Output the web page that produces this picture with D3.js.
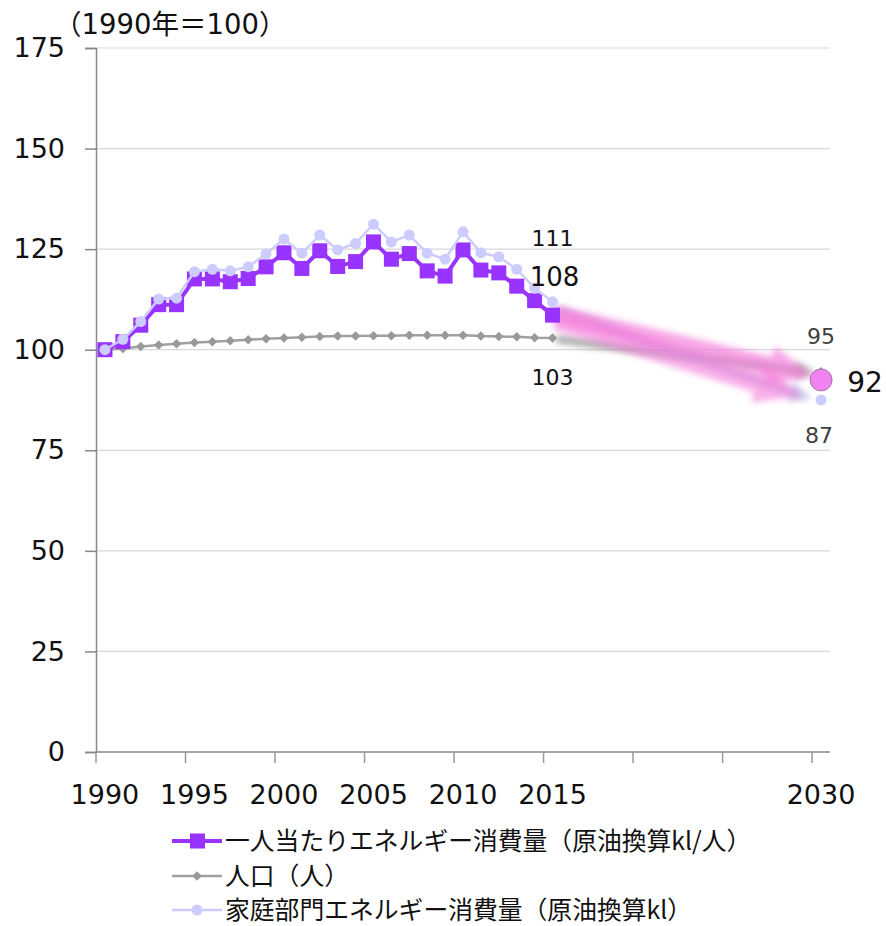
<!DOCTYPE html>
<html>
<head>
<meta charset="utf-8">
<script src="https://cdn.jsdelivr.net/npm/d3@7"></script>
<style>
  body { margin: 0; background: #fff; }
  svg text { font-family: "DejaVu Sans", "Noto Sans CJK JP", sans-serif; }
</style>
</head>
<body>
<div id="chart"></div>
<script>
'use strict';

// categories on the x axis (1990 .. 2030, one per year)
var years = d3.range(1990, 2031);
var tickLabels = ['1990', '1995', '2000', '2005', '2010', '2015', '2030'];
var yTicks = [0, 25, 50, 75, 100, 125, 150, 175];

// 1990 = 100
var dataYears = d3.range(1990, 2016);
var perCapita = [100, 102.0, 106.1, 111.2, 111.2, 117.6, 117.6, 116.9, 117.7, 120.6,
    124.1, 120.2, 124.6, 120.7, 121.9, 126.8, 122.5, 123.9, 119.6, 118.3,
    124.8, 119.8, 119.1, 115.8, 112.2, 108.6];
var population = [100, 100.3, 100.8, 101.2, 101.5, 101.8, 102.0, 102.2, 102.5, 102.7,
    102.9, 103.1, 103.3, 103.4, 103.4, 103.5, 103.5, 103.6, 103.6, 103.6,
    103.6, 103.4, 103.3, 103.2, 103.0, 102.9];
var household = [100, 102.6, 107.0, 112.6, 112.8, 119.4, 120.0, 119.6, 120.6, 123.8,
    127.5, 124.0, 128.5, 124.8, 126.4, 131.2, 126.8, 128.5, 124.0, 122.5,
    129.3, 124.1, 123.1, 120.0, 115.3, 111.9];

// 2030 outlook
var target2030 = { perCapita: 92.5, population: 94.5, household: 87.5 };

// value labels
var endLabels = [
    { text: '111', year: 2015, value: 111, size: 22, dx: 0, dy: -59, color: '#111' },
    { text: '108', year: 2015, value: 108, size: 26, dx: 2, dy: -32, color: '#111' },
    { text: '103', year: 2015, value: 103, size: 22, dx: 0, dy: 47, color: '#111' },
    { text: '95', year: 2030, value: 95, size: 22, dx: 0, dy: -26, color: '#404040' },
    { text: '92', year: 2030, value: 92, size: 28, dx: 44, dy: 10, color: '#111' },
    { text: '87', year: 2030, value: 87, size: 22, dx: -2, dy: 41, color: '#404040' }
];

var legendItems = [
    { name: '一人当たりエネルギー消費量（原油換算kl/人）', key: 'perCapita' },
    { name: '人口（人）', key: 'population' },
    { name: '家庭部門エネルギー消費量（原油換算kl）', key: 'household' }
];

var PURPLE = '#9933ff';
var GRAY = '#a0a0a0';
var LAVENDER = '#ccccff';
var PINK = '#f57fdc';

var width = 886, height = 926;
var svg = d3.select('#chart').append('svg')
    .attr('width', width)
    .attr('height', height);

var defs = svg.append('defs');
defs.append('filter')
    .attr('id', 'soft')
    .attr('x', '-20%').attr('y', '-50%').attr('width', '140%').attr('height', '200%')
    .append('feGaussianBlur')
    .attr('stdDeviation', 3);

var x = d3.scaleBand()
    .domain(years)
    .range([96, 830])
    .padding(0);
var y = d3.scaleLinear()
    .domain([0, 175])
    .range([752, 48]);

function cx(year) { return x(year) + x.bandwidth() / 2; }

// grid
svg.append('g')
    .selectAll('line')
    .data(yTicks.slice(1))
    .enter()
    .append('line')
    .attr('x1', 96)
    .attr('x2', 830)
    .attr('y1', function (d) { return y(d); })
    .attr('y2', function (d) { return y(d); })
    .attr('stroke', '#d9d9d9')
    .attr('stroke-width', 1.2);

// y axis
var yAxis = svg.append('g')
    .attr('transform', 'translate(96,0)')
    .call(d3.axisLeft(y).tickValues(yTicks).tickSize(11).tickPadding(20));
yAxis.select('.domain').attr('stroke', '#888').attr('stroke-width', 1.5);
yAxis.selectAll('.tick line').attr('stroke', '#888').attr('stroke-width', 1.5);
yAxis.selectAll('.tick text')
    .attr('font-size', '27px')
    .attr('fill', '#111')
    .style('font-family', '"DejaVu Sans", sans-serif');

// x axis: boundary ticks every five categories
svg.append('line')
    .attr('x1', 96).attr('x2', 830)
    .attr('y1', y(0)).attr('y2', y(0))
    .attr('stroke', '#888')
    .attr('stroke-width', 1.5);
svg.append('g')
    .selectAll('line')
    .data(d3.range(0, years.length, 5))
    .enter()
    .append('line')
    .attr('x1', function (i) { return x.range()[0] + i * x.bandwidth(); })
    .attr('x2', function (i) { return x.range()[0] + i * x.bandwidth(); })
    .attr('y1', y(0))
    .attr('y2', y(0) + 11)
    .attr('stroke', '#999')
    .attr('stroke-width', 1.5);
svg.append('g')
    .selectAll('text')
    .data(tickLabels)
    .enter()
    .append('text')
    .attr('x', function (d) { return cx(+d); })
    .attr('y', 804)
    .attr('text-anchor', 'middle')
    .attr('font-size', '27px')
    .attr('fill', '#111')
    .text(function (d) { return d; });

// unit label
svg.append('text')
    .attr('x', 54)
    .attr('y', 34)
    .attr('font-size', '27.5px')
    .attr('fill', '#111')
    .text('（1990年＝100）');

// outlook arrows 2015 -> 2030
function arrow(x1, y1, x2, y2, color, w, head, opacity) {
    var ang = Math.atan2(y2 - y1, x2 - x1);
    var len = Math.hypot(x2 - x1, y2 - y1);
    var g = svg.append('g')
        .attr('transform', 'translate(' + x1 + ',' + y1 + ') rotate(' + (ang * 180 / Math.PI) + ')')
        .attr('opacity', opacity)
        .attr('filter', 'url(#soft)');
    var hw = head * 1.1;
    g.append('path')
        .attr('d', 'M0,' + (-w / 2) + 'L' + (len - hw) + ',' + (-w / 2) +
            'L' + (len - hw) + ',' + (-head / 2) + 'L' + len + ',0' +
            'L' + (len - hw) + ',' + (head / 2) + 'L' + (len - hw) + ',' + (w / 2) +
            'L0,' + (w / 2) + 'Z')
        .attr('fill', color);
}
var x15 = cx(2015), x30 = cx(2030);
arrow(x15 + 4, y(population[25]) + 1, x30 - 6, y(target2030.population) + 1, '#8f8f8f', 8, 18, 0.75);
arrow(x15 + 4, y(household[25]) + 8, x30 - 10, y(target2030.household) - 1, '#b3aadf', 8, 20, 0.75);
arrow(x15 + 4, y(perCapita[25]) + 5, x30 - 20, y(target2030.household) - 4, PINK, 20, 42, 0.62);
arrow(x15 + 2, y(perCapita[25]) - 1, x30 - 8, y(target2030.perCapita) - 4, PINK, 18, 40, 0.7);

// series lines
function drawLine(values, color, w) {
    var pts = dataYears.map(function (yr, i) { return [cx(yr), y(values[i])]; });
    svg.append('path')
        .datum(pts)
        .attr('d', d3.line())
        .attr('fill', 'none')
        .attr('stroke', color)
        .attr('stroke-width', w)
        .attr('stroke-linejoin', 'round');
    return pts;
}

var popPts = drawLine(population, GRAY, 2.5);
svg.append('g').selectAll('path')
    .data(popPts.concat([[x30, y(target2030.population)]]))
    .enter()
    .append('path')
    .attr('d', d3.symbol().type(d3.symbolSquare).size(45))
    .attr('transform', function (d) { return 'translate(' + d[0] + ',' + d[1] + ') rotate(45)'; })
    .attr('fill', '#999');

var pcPts = drawLine(perCapita, PURPLE, 4);
svg.append('g').selectAll('rect')
    .data(pcPts)
    .enter()
    .append('rect')
    .attr('x', function (d) { return d[0] - 7.5; })
    .attr('y', function (d) { return d[1] - 7.5; })
    .attr('width', 15)
    .attr('height', 15)
    .attr('fill', PURPLE);

var hhPts = drawLine(household, LAVENDER, 2.5);
svg.append('g').selectAll('circle')
    .data(hhPts.concat([[x30, y(target2030.household)]]))
    .enter()
    .append('circle')
    .attr('cx', function (d) { return d[0]; })
    .attr('cy', function (d) { return d[1]; })
    .attr('r', 5.5)
    .attr('fill', LAVENDER);

// 2030 per-capita point
svg.append('circle')
    .attr('cx', x30)
    .attr('cy', y(target2030.perCapita))
    .attr('r', 11)
    .attr('fill', '#f282f0')
    .attr('stroke', '#a07aa8')
    .attr('stroke-width', 1);

// value labels
svg.append('g').selectAll('text')
    .data(endLabels)
    .enter()
    .append('text')
    .attr('x', function (d) { return cx(d.year) + d.dx; })
    .attr('y', function (d) { return y(d.value) + d.dy; })
    .attr('text-anchor', 'middle')
    .attr('font-size', function (d) { return d.size + 'px'; })
    .attr('fill', function (d) { return d.color; })
    .text(function (d) { return d.text; });

// legend
var legend = svg.append('g').attr('transform', 'translate(172,0)');
var rowY = [841, 876, 910];
legendItems.forEach(function (item, i) {
    var row = legend.append('g').attr('transform', 'translate(0,' + rowY[i] + ')');
    var color = item.key === 'perCapita' ? PURPLE : (item.key === 'population' ? GRAY : LAVENDER);
    row.append('line')
        .attr('x1', 0).attr('x2', 50)
        .attr('stroke', color)
        .attr('stroke-width', item.key === 'perCapita' ? 4 : 2.5);
    if (item.key === 'perCapita') {
        row.append('rect').attr('x', 18).attr('y', -7.5).attr('width', 15).attr('height', 15).attr('fill', PURPLE);
    } else if (item.key === 'population') {
        row.append('path').attr('d', d3.symbol().type(d3.symbolSquare).size(45)).attr('transform', 'translate(25,0) rotate(45)').attr('fill', '#999');
    } else {
        row.append('circle').attr('cx', 25).attr('r', 5.5).attr('fill', LAVENDER);
    }
    row.append('text')
        .attr('x', 53)
        .attr('y', 0)
        .attr('dy', '0.35em')
        .attr('font-size', '24.8px')
        .attr('fill', '#111')
        .style('font-family', '"Noto Sans CJK JP", sans-serif')
        .text(item.name);
});
</script>
</body>
</html>
